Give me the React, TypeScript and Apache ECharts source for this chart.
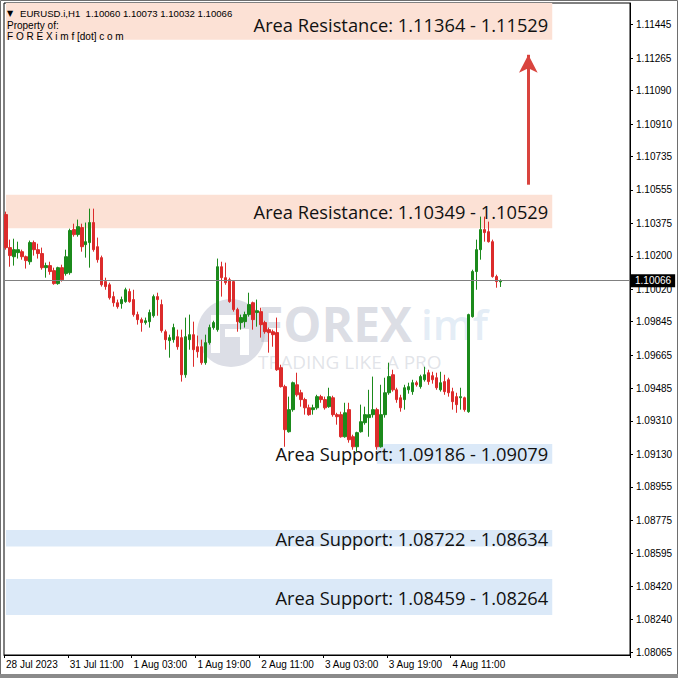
import React, { useEffect, useRef } from "react";
import * as echarts from "echarts";

// ---- categories (hourly candles, H1) ----
const firstDay = "28 Jul";
const firstDayHours = [19, 20, 21, 22, 23];
const tradingDays = ["31 Jul", "1 Aug", "2 Aug", "3 Aug", "4 Aug"];
const emptySlotsRight = 32;
const firstLabel = "28 Jul 2023";
const labelEvery = 16;
const lastLabelIndex = 112;

const pad2 = (h: number) => (h < 10 ? "0" + h : "" + h);
const categories: string[] = [];
firstDayHours.forEach((h) => categories.push(`${firstDay} ${pad2(h)}:00`));
tradingDays.forEach((d) => {
  for (let h = 0; h < 24; h++) categories.push(`${d} ${pad2(h)}:00`);
});
for (let i = 0; i < emptySlotsRight; i++) categories.push("");

// ---- OHLC values ----
const opens = [
  1.10422, 1.10244, 1.10195, 1.10217, 1.10222, 1.10195, 1.10168, 1.10271, 1.10233, 1.10212,
  1.10136, 1.10147, 1.10120, 1.10050, 1.10136, 1.10104, 1.10109, 1.10341, 1.10314, 1.10352,
  1.10260, 1.10271, 1.10379, 1.10249, 1.10190, 1.10061, 1.10044, 1.09980, 1.09947, 1.09942,
  1.09953, 1.10007, 1.09964, 1.09883, 1.09856, 1.09840, 1.09845, 1.09877, 1.09980, 1.09937,
  1.09791, 1.09743, 1.09748, 1.09764, 1.09759, 1.09559, 1.09748, 1.09775, 1.09710, 1.09710,
  1.09624, 1.09732, 1.09813, 1.09802, 1.10141, 1.10082, 1.10071, 1.10061, 1.09910, 1.09840,
  1.09845, 1.09883, 1.09947, 1.09894, 1.09899, 1.09840, 1.09802, 1.09791, 1.09786, 1.09597,
  1.09495, 1.09252, 1.09371, 1.09505, 1.09462, 1.09425, 1.09381, 1.09371, 1.09381, 1.09441,
  1.09425, 1.09387, 1.09435, 1.09344, 1.09344, 1.09225, 1.09371, 1.09225, 1.09171, 1.09252,
  1.09301, 1.09328, 1.09344, 1.09371, 1.09171, 1.09344, 1.09462, 1.09559, 1.09478, 1.09435,
  1.09425, 1.09478, 1.09468, 1.09516, 1.09495, 1.09532, 1.09570, 1.09554, 1.09543, 1.09478,
  1.09522, 1.09532, 1.09468, 1.09441, 1.09435, 1.09435, 1.09360, 1.09872, 1.10115, 1.10233,
  1.10341, 1.10330, 1.10276, 1.10088, 1.10060,
];
const closes = [
  1.10244, 1.10201, 1.10233, 1.10233, 1.10195, 1.10174, 1.10271, 1.10233, 1.10212, 1.10136,
  1.10147, 1.10115, 1.10050, 1.10136, 1.10071, 1.10195, 1.10336, 1.10314, 1.10357, 1.10249,
  1.10276, 1.10379, 1.10233, 1.10179, 1.10044, 1.10034, 1.09974, 1.09947, 1.09926, 1.09964,
  1.10017, 1.09953, 1.09883, 1.09856, 1.09840, 1.09850, 1.09894, 1.09980, 1.09964, 1.09797,
  1.09748, 1.09759, 1.09813, 1.09710, 1.09559, 1.09764, 1.09775, 1.09694, 1.09683, 1.09624,
  1.09732, 1.09813, 1.09840, 1.10141, 1.10082, 1.10055, 1.09953, 1.09910, 1.09845, 1.09867,
  1.09883, 1.09937, 1.09856, 1.09904, 1.09829, 1.09791, 1.09786, 1.09775, 1.09586, 1.09495,
  1.09263, 1.09371, 1.09516, 1.09451, 1.09425, 1.09381, 1.09344, 1.09381, 1.09441, 1.09425,
  1.09381, 1.09441, 1.09344, 1.09333, 1.09225, 1.09354, 1.09209, 1.09171, 1.09247, 1.09306,
  1.09344, 1.09344, 1.09371, 1.09171, 1.09344, 1.09462, 1.09549, 1.09478, 1.09425, 1.09381,
  1.09489, 1.09495, 1.09516, 1.09505, 1.09549, 1.09559, 1.09522, 1.09532, 1.09489, 1.09516,
  1.09468, 1.09462, 1.09414, 1.09398, 1.09441, 1.09371, 1.09883, 1.10115, 1.10233, 1.10341,
  1.10325, 1.10276, 1.10088, 1.10061, 1.10066,
];
const lows = [
  1.10233, 1.10141, 1.10147, 1.10185, 1.10179, 1.10131, 1.10152, 1.10201, 1.10185, 1.10125,
  1.10082, 1.10098, 1.10044, 1.10044, 1.10061, 1.10093, 1.10098, 1.10303, 1.10303, 1.10222,
  1.10190, 1.10136, 1.10222, 1.10163, 1.10034, 1.10017, 1.09964, 1.09926, 1.09915, 1.09915,
  1.09947, 1.09947, 1.09872, 1.09829, 1.09791, 1.09829, 1.09813, 1.09867, 1.09877, 1.09786,
  1.09694, 1.09651, 1.09732, 1.09694, 1.09522, 1.09543, 1.09694, 1.09602, 1.09651, 1.09613,
  1.09613, 1.09721, 1.09802, 1.09791, 1.09980, 1.10044, 1.09947, 1.09899, 1.09791, 1.09802,
  1.09813, 1.09872, 1.09802, 1.09818, 1.09759, 1.09780, 1.09678, 1.09710, 1.09580, 1.09490,
  1.09171, 1.09247, 1.09360, 1.09441, 1.09387, 1.09344, 1.09338, 1.09344, 1.09371, 1.09408,
  1.09371, 1.09381, 1.09333, 1.09290, 1.09220, 1.09220, 1.09193, 1.09155, 1.09144, 1.09247,
  1.09290, 1.09225, 1.09328, 1.09155, 1.09166, 1.09328, 1.09451, 1.09468, 1.09408, 1.09360,
  1.09371, 1.09457, 1.09451, 1.09495, 1.09484, 1.09522, 1.09505, 1.09511, 1.09478, 1.09468,
  1.09451, 1.09441, 1.09371, 1.09354, 1.09371, 1.09360, 1.09354, 1.09867, 1.10017, 1.10179,
  1.10276, 1.10271, 1.10082, 1.10028, 1.10032,
];
const highs = [
  1.10438, 1.10287, 1.10292, 1.10276, 1.10233, 1.10201, 1.10282, 1.10282, 1.10265, 1.10244,
  1.10163, 1.10168, 1.10136, 1.10141, 1.10152, 1.10233, 1.10346, 1.10373, 1.10395, 1.10373,
  1.10379, 1.10454, 1.10454, 1.10298, 1.10201, 1.10082, 1.10055, 1.10007, 1.09964, 1.09980,
  1.10028, 1.10023, 1.10017, 1.09899, 1.09867, 1.09867, 1.09910, 1.09991, 1.10001, 1.09964,
  1.09802, 1.09775, 1.09834, 1.09802, 1.09802, 1.09867, 1.09883, 1.09845, 1.09770, 1.09748,
  1.09775, 1.09829, 1.09850, 1.10185, 1.10168, 1.10163, 1.10082, 1.10066, 1.09920, 1.09883,
  1.09899, 1.10001, 1.09953, 1.09964, 1.09920, 1.09850, 1.09813, 1.09802, 1.09867, 1.09613,
  1.09505, 1.09441, 1.09522, 1.09570, 1.09478, 1.09435, 1.09398, 1.09398, 1.09451, 1.09451,
  1.09441, 1.09489, 1.09446, 1.09354, 1.09360, 1.09408, 1.09408, 1.09236, 1.09252, 1.09398,
  1.09387, 1.09478, 1.09549, 1.09381, 1.09505, 1.09543, 1.09624, 1.09586, 1.09489, 1.09451,
  1.09505, 1.09516, 1.09532, 1.09527, 1.09559, 1.09602, 1.09586, 1.09575, 1.09570, 1.09575,
  1.09559, 1.09543, 1.09489, 1.09462, 1.09489, 1.09441, 1.09888, 1.10125, 1.10287, 1.10411,
  1.10411, 1.10384, 1.10287, 1.10098, 1.10073,
];

// ---- price axis ----
const yMin = 1.08049;
const yMax = 1.11562;
const yTicks = [
  1.11445, 1.11265, 1.1109, 1.1091, 1.10735, 1.10555, 1.10375, 1.102, 1.1002, 1.09845,
  1.09665, 1.09485, 1.0931, 1.0913, 1.08955, 1.08775, 1.08595, 1.0842, 1.0824, 1.08065,
];
const currentPrice = 1.10066;

// ---- zones ----
const resistanceZones = [
  [1.11364, 1.11529],
  [1.10349, 1.10529],
];
const supportZones = [
  [1.09186, 1.09079],
  [1.08722, 1.08634],
  [1.08459, 1.08264],
];
const supportStartIndex = [93, 0, 0];
const zoneEndIndex = 137;

// ---- arrow (target) ----
const arrowIndex = 131;
const arrowFrom = 1.10583;
const arrowTo = 1.11283;

const headerLine = "EURUSD.i,H1  1.10060 1.10073 1.10032 1.10066";

const GREEN = "#1b8a1b";
const RED = "#dc2b2b";
const PEACH = "#fce1d5";
const BLUE = "#dbe9f8";

export default function App() {
  const ref = useRef<HTMLDivElement>(null);

  useEffect(() => {
    document.body.style.margin = "0";
    const chart = echarts.init(ref.current!, null, { renderer: "svg" });

    const candleData = opens.map((o, i) => [o, closes[i], lows[i], highs[i]]);

    const zoneLabel = {
      show: true,
      position: "insideRight",
      distance: 4,
      fontFamily: "Open Sans",
      fontSize: 18.3,
      color: "#111",
    };

    const areas: any[] = [];
    resistanceZones.forEach(([lo, hi], i) => {
      areas.push([
        {
          coord: [0, lo],
          itemStyle: { color: PEACH },
          label: { ...zoneLabel, formatter: `Area Resistance: ${lo.toFixed(5)} - ${hi.toFixed(5)}` },
        },
        { coord: [zoneEndIndex, hi] },
      ]);
      if (i === 0) {
        areas.push([
          { coord: [0, hi], itemStyle: { color: PEACH }, label: { show: false } },
          { coord: [zoneEndIndex, yMax] },
        ]);
      }
    });
    supportZones.forEach(([a, b], i) => {
      areas.push([
        {
          coord: [supportStartIndex[i], a],
          itemStyle: { color: BLUE },
          label: { ...zoneLabel, formatter: `Area Support: ${a.toFixed(5)} - ${b.toFixed(5)}` },
        },
        { coord: [zoneEndIndex, b] },
      ]);
    });

    const showIdx = (idx: number) => idx % labelEvery === 0 && idx <= lastLabelIndex;

    chart.setOption({
      animation: false,
      backgroundColor: "#fff",
      grid: {
        left: 4,
        top: 3,
        width: 626,
        height: 652,
        show: true,
        borderColor: "#000",
        borderWidth: 1,
        backgroundColor: "#fff",
      },
      xAxis: {
        type: "category",
        data: categories,
        boundaryGap: true,
        axisLine: { show: true, lineStyle: { color: "#000", width: 1 } },
        axisTick: {
          show: true,
          interval: (idx: number) => showIdx(idx),
          length: 3,
          lineStyle: { color: "#000" },
        },
        axisLabel: {
          interval: (idx: number) => showIdx(idx),
          formatter: (v: string, idx: number) => (idx === 0 ? firstLabel : v),
          align: "left",
          margin: 4,
          fontFamily: "Liberation Sans",
          fontSize: 10,
          color: "#000",
        },
        splitLine: { show: false },
      },
      yAxis: {
        type: "value",
        position: "right",
        min: yMin,
        max: yMax,
        scale: true,
        axisLine: { show: true, lineStyle: { color: "#000" } },
        axisTick: {
          show: true,
          customValues: yTicks,
          length: 3,
          lineStyle: { color: "#000" },
        },
        axisLabel: {
          customValues: yTicks,
          formatter: (v: number) => v.toFixed(5),
          margin: 6,
          fontFamily: "Liberation Sans",
          fontSize: 10,
          color: "#000",
        },
        splitLine: { show: false },
      },
      graphic: [
        {
          type: "group",
          z: 1,
          silent: true,
          children: [
            { type: "circle", shape: { cx: 231, cy: 333, r: 34 }, style: { fill: "rgba(185,190,205,0.5)" } },
            { type: "rect", shape: { x: 211, y: 315, width: 26, height: 9 }, style: { fill: "#fff" } },
            { type: "rect", shape: { x: 211, y: 315, width: 9, height: 38 }, style: { fill: "#fff" } },
            { type: "rect", shape: { x: 225, y: 329, width: 24, height: 8 }, style: { fill: "#fff" } },
            { type: "rect", shape: { x: 240, y: 329, width: 9, height: 26 }, style: { fill: "#fff" } },
            {
              type: "text",
              x: 257,
              y: 323,
              style: {
                text: "FOREX",
                font: "bold 48px 'Open Sans'",
                fill: "rgba(175,180,196,0.45)",
                textVerticalAlign: "middle",
              },
            },
            {
              type: "text",
              x: 421,
              y: 323,
              style: {
                text: "imf",
                font: "600 42px 'Open Sans'",
                fill: "rgba(185,208,232,0.4)",
                textVerticalAlign: "middle",
              },
            },
            {
              type: "text",
              x: 258,
              y: 362,
              style: {
                text: "TRADING LIKE A PRO",
                font: "19px 'Open Sans'",
                fill: "rgba(190,194,205,0.45)",
                textVerticalAlign: "middle",
              },
            },
          ],
        },
        {
          type: "text",
          x: 7,
          y: 9,
          z: 10,
          style: { text: "▼", font: "8px 'DejaVu Sans'", fill: "#000" },
        },
        {
          type: "text",
          x: 20,
          y: 8,
          z: 10,
          style: { text: headerLine, font: "9.6px 'Liberation Sans'", fill: "#000" },
        },
        {
          type: "text",
          x: 7,
          y: 20,
          z: 10,
          style: { text: "Property of:", font: "10px 'Liberation Sans'", fill: "#000" },
        },
        {
          type: "text",
          x: 7,
          y: 31,
          z: 10,
          style: { text: "F O R E X i m f [dot] c o m", font: "10px 'Liberation Sans'", fill: "#000" },
        },
        {
          type: "rect",
          z: 20,
          silent: true,
          shape: { x: 0.5, y: 0.5, width: 677, height: 677 },
          style: { fill: "none", stroke: "#6e6e6e", lineWidth: 1 },
        },
        {
          type: "rect",
          z: 20,
          silent: true,
          shape: { x: 0, y: 674, width: 678, height: 4 },
          style: { fill: "#8a8a8a" },
        },
      ],
      series: [
        {
          type: "candlestick",
          data: candleData,
          barWidth: 3,
          z: 3,
          itemStyle: {
            color: GREEN,
            color0: RED,
            borderColor: GREEN,
            borderColor0: RED,
            borderWidth: 1,
          },
          markArea: {
            silent: true,
            data: areas,
          },
          markLine: {
            silent: true,
            precision: 5,
            symbol: ["none", "none"],
            data: [
              {
                yAxis: currentPrice,
                lineStyle: { color: "#808080", width: 1, type: "solid" },
                label: {
                  show: true,
                  position: "end",
                  distance: 1,
                  formatter: currentPrice.toFixed(5),
                  backgroundColor: "#000",
                  color: "#fff",
                  fontFamily: "Liberation Sans",
                  fontSize: 10,
                  padding: [2, 4, 1, 4],
                },
              },
              [
                {
                  coord: [arrowIndex, arrowFrom],
                  symbol: "none",
                  lineStyle: { color: "#d9443e", width: 3, type: "solid" },
                  label: { show: false },
                },
                { coord: [arrowIndex, arrowTo], symbol: "arrow", symbolSize: [14, 18] },
              ],
            ],
          },
        },
      ],
    });

    return () => chart.dispose();
  }, []);

  return <div ref={ref} style={{ width: 678, height: 678 }} />;
}
